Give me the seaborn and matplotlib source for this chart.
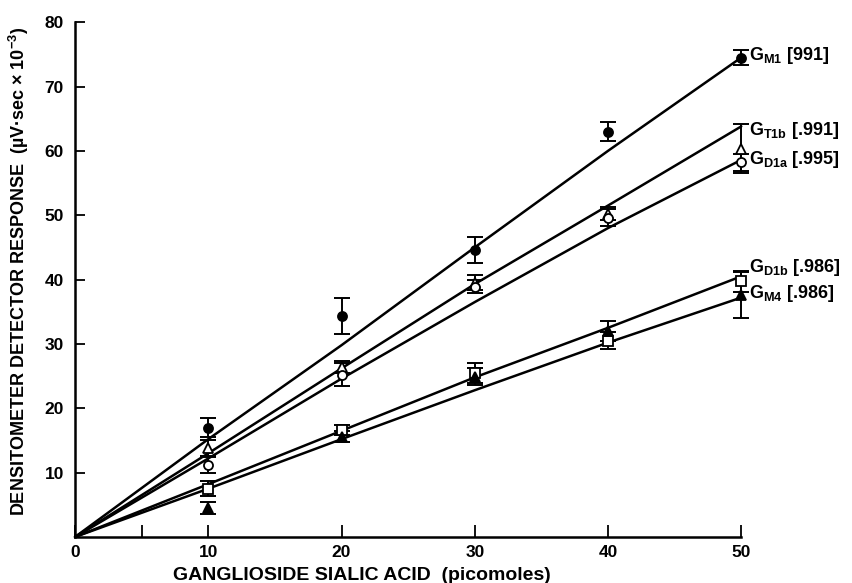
import numpy as np
import pandas as pd
import matplotlib
matplotlib.use("Agg")
import matplotlib.pyplot as plt
import seaborn as sns

# picomoles of ganglioside sialic acid
x_pmol = [10, 20, 30, 40, 50]
fit_x = [0, 10, 20, 30, 40, 50]

# measured responses (uV.sec x 10^-3) with error bars, and the drawn regression lines
gm1_y = [17.0, 34.4, 44.6, 63.0, 74.5]
gm1_err = [1.5, 2.8, 2.0, 1.5, 1.2]
gm1_fit = [0, 15.2, 29.8, 45.0, 60.0, 74.5]

gt1b_y = [13.8, 26.4, 39.5, 50.2, 60.3]
gt1b_err = [1.2, 1.0, 1.2, 1.0, 3.8]
gt1b_fit = [0, 13.0, 26.2, 39.3, 51.5, 63.8]

gd1a_y = [11.2, 25.2, 38.9, 49.6, 58.2]
gd1a_err = [1.2, 1.8, 1.0, 1.3, 1.3]
gd1a_fit = [0, 12.2, 24.6, 36.5, 48.0, 58.6]

gd1b_y = [7.5, 16.6, 25.5, 30.5, 39.7]
gd1b_err = [1.2, 0.8, 1.5, 1.3, 1.7]
gd1b_fit = [0, 8.2, 16.5, 24.8, 32.5, 40.5]

gm4_y = [4.5, 15.6, 24.9, 32.0, 37.6]
gm4_err = [1.0, 0.8, 1.3, 1.5, 3.5]
gm4_fit = [0, 7.5, 15.2, 22.8, 30.2, 37.2]

labels = [r"G$_{\rm M1}$ [991]", r"G$_{\rm T1b}$ [.991]", r"G$_{\rm D1a}$ [.995]",
          r"G$_{\rm D1b}$ [.986]", r"G$_{\rm M4}$ [.986]"]
label_y = [74.8, 63.2, 58.6, 41.8, 37.8]

sns.set_style("ticks")
plt.rcParams["font.family"] = ["Liberation Sans", "DejaVu Sans"]
plt.rcParams["font.weight"] = "bold"
plt.rcParams["mathtext.fontset"] = "custom"
plt.rcParams["mathtext.rm"] = "Liberation Sans:bold"
plt.rcParams["mathtext.it"] = "Liberation Sans:bold:italic"
plt.rcParams["mathtext.bf"] = "Liberation Sans:bold"
for key in ["text.color", "axes.labelcolor", "xtick.color", "ytick.color", "axes.edgecolor"]:
    plt.rcParams[key] = "black"

series = [
    (gm1_y, gm1_err, gm1_fit, "o", "black"),
    (gt1b_y, gt1b_err, gt1b_fit, "^", "white"),
    (gd1a_y, gd1a_err, gd1a_fit, "o", "white"),
    (gd1b_y, gd1b_err, gd1b_fit, "s", "white"),
    (gm4_y, gm4_err, gm4_fit, "^", "black"),
]

fig = plt.figure(figsize=(8.53, 5.83), dpi=100)
ax = fig.add_axes([0.088, 0.079, 0.781, 0.883])

for (y, err, fit, mk, face), lab, ly in zip(series, labels, label_y):
    fit_df = pd.DataFrame({"x": fit_x, "y": fit})
    sns.lineplot(data=fit_df, x="x", y="y", ax=ax, color="black", lw=1.8,
                 zorder=2, clip_on=False)
    ax.errorbar(x_pmol, y, yerr=err, fmt="none", ecolor="black", elinewidth=1.4,
                capsize=5.5, capthick=1.4, zorder=3, clip_on=False)
    ax.plot(x_pmol, y, linestyle="none", marker=mk, markersize=6.5,
            markerfacecolor=face, markeredgecolor="black", markeredgewidth=1.3,
            zorder=4, clip_on=False)
    ax.text(50.6, ly, lab, fontsize=13, fontweight="bold", va="center", ha="left")

ax.set_xlim(0, 50)
ax.set_ylim(0, 80)
ax.set_xticks([0, 10, 20, 30, 40, 50])
ax.set_xticks([5], minor=True)
ax.set_yticks([10, 20, 30, 40, 50, 60, 70, 80])
ax.tick_params(axis="x", which="both", direction="in", length=9, width=1.3,
               labelsize=12.5, pad=6)
ax.tick_params(axis="y", direction="in", length=7, width=1.3, labelsize=12.5, pad=8)
for lbl in ax.get_xticklabels() + ax.get_yticklabels():
    lbl.set_fontweight("bold")

sns.despine(ax=ax)
ax.spines["left"].set_linewidth(1.8)
ax.spines["bottom"].set_linewidth(1.8)

ax.set_xlabel("GANGLIOSIDE SIALIC ACID  (picomoles)", fontsize=14, fontweight="bold")
ax.xaxis.set_label_coords(0.43, -0.058)
ax.set_ylabel(r"DENSITOMETER DETECTOR RESPONSE  (µV·sec × 10$^{-3}$)",
              fontsize=13, fontweight="bold")
ax.yaxis.set_label_coords(-0.066, 0.515)

fig.savefig("out.png", dpi=100)
